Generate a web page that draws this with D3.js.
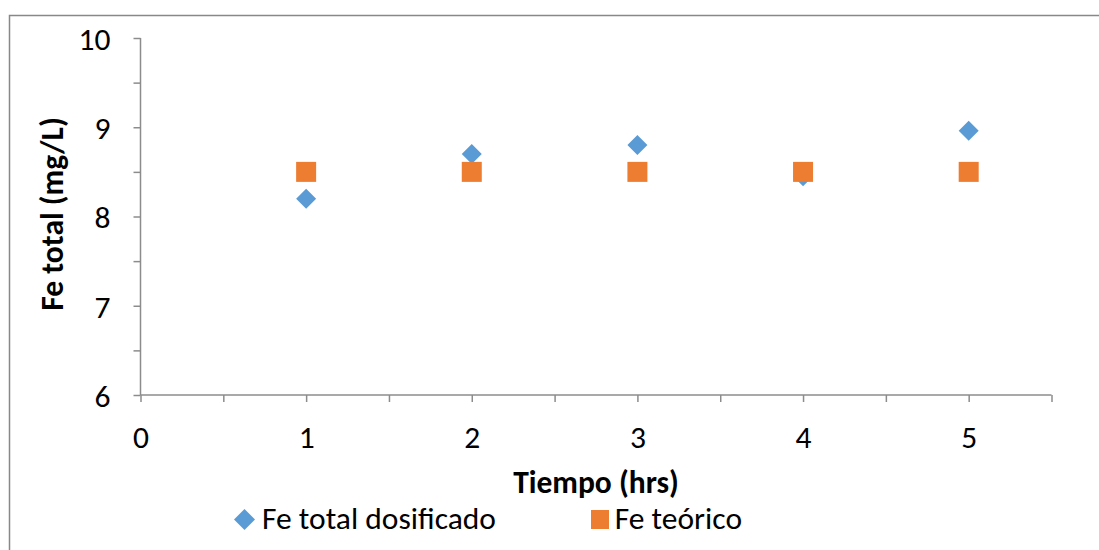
<!DOCTYPE html>
<html><head><meta charset="utf-8">
<script src="https://cdn.jsdelivr.net/npm/d3@7"></script>
<style>body{margin:0;background:#fff}svg{display:block}text{font-family:Carlito,Calibri,"Open Sans",sans-serif}</style>
</head><body><svg id="c" width="1099" height="550"></svg>
<script>
const hours = [1, 2, 3, 4, 5];
const feDosificado = [8.2, 8.7, 8.8, 8.45, 8.96];
const feTeorico = [8.5, 8.5, 8.5, 8.5, 8.5];
const xTicks = [0, 1, 2, 3, 4, 5];
const yTicks = [6, 7, 8, 9, 10];
const seriesNames = ["Fe total dosificado", "Fe teórico"];
const colors = ["#5B9BD5", "#ED7D31"];
const FS = 31.5;

const svg = d3.select("#c");
svg.append("rect").attr("x", 9.5).attr("y", 15.5).attr("width", 1200).attr("height", 600)
  .attr("fill", "none").attr("stroke", "#888").attr("stroke-width", 1.5);

const x = d3.scaleLinear().domain([0, 5.5]).range([140.5, 1051.5]);
const y = d3.scaleLinear().domain([6, 10]).range([395, 38]);

const ax = svg.append("g").attr("transform", `translate(0,${y(6)})`)
  .call(d3.axisBottom(x).tickValues(d3.range(0, 5.51, 0.5)).tickSize(7).tickFormat(d => xTicks.includes(d) ? d : ""));
ax.select(".domain").attr("stroke", "#8c8c8c").attr("stroke-width", 1.5).attr("d", `M${x(0)},0H${x(5.5)}`);
ax.selectAll(".tick line").attr("stroke", "#8c8c8c").attr("stroke-width", 1.5);
ax.selectAll(".tick text").attr("font-size", FS).attr("fill", "#000").attr("y", 53).attr("dy", 0);

const ay = svg.append("g").attr("transform", `translate(${x(0)},0)`)
  .call(d3.axisLeft(y).tickValues(d3.range(6, 10.01, 0.5)).tickSize(7).tickFormat(d => yTicks.includes(d) ? d : ""));
ay.select(".domain").attr("stroke", "#8c8c8c").attr("stroke-width", 1.5).attr("d", `M0,${y(6)}V${y(10)}`);
ay.selectAll(".tick line").attr("stroke", "#8c8c8c").attr("stroke-width", 1.5);
ay.selectAll(".tick text").attr("font-size", FS).attr("fill", "#000").attr("x", -30).attr("dy", "0.36em");

svg.append("text").attr("x", 596).attr("y", 493).attr("text-anchor", "middle")
  .attr("font-size", FS).attr("font-weight", "bold").text("Tiempo (hrs)");
svg.append("text").attr("transform", "translate(63,214) rotate(-90)").attr("text-anchor", "middle")
  .attr("font-size", FS).attr("font-weight", "bold").text("Fe total (mg/L)");

const diamond = d3.symbol().type(d3.symbolSquare).size(200);
svg.append("g").selectAll("path").data(hours).join("path")
  .attr("d", diamond)
  .attr("transform", (d, i) => `translate(${x(d)},${y(feDosificado[i])}) rotate(45)`)
  .attr("fill", colors[0]);
svg.append("g").selectAll("rect").data(hours).join("rect")
  .attr("x", d => x(d) - 10).attr("y", (d, i) => y(feTeorico[i]) - 10)
  .attr("width", 20).attr("height", 20).attr("fill", colors[1]);

// legend
const lg = svg.append("g");
lg.append("path").attr("d", d3.symbol().type(d3.symbolSquare).size(220)).attr("transform", "translate(244.5,519.5) rotate(45)").attr("fill", colors[0]);
lg.append("text").attr("x", 262).attr("y", 529).attr("font-size", FS).text(seriesNames[0]);
lg.append("rect").attr("x", 591).attr("y", 510).attr("width", 18).attr("height", 19).attr("fill", colors[1]);
lg.append("text").attr("x", 742).attr("y", 529).attr("text-anchor", "end").attr("font-size", FS).text(seriesNames[1]);
</script></body></html>
